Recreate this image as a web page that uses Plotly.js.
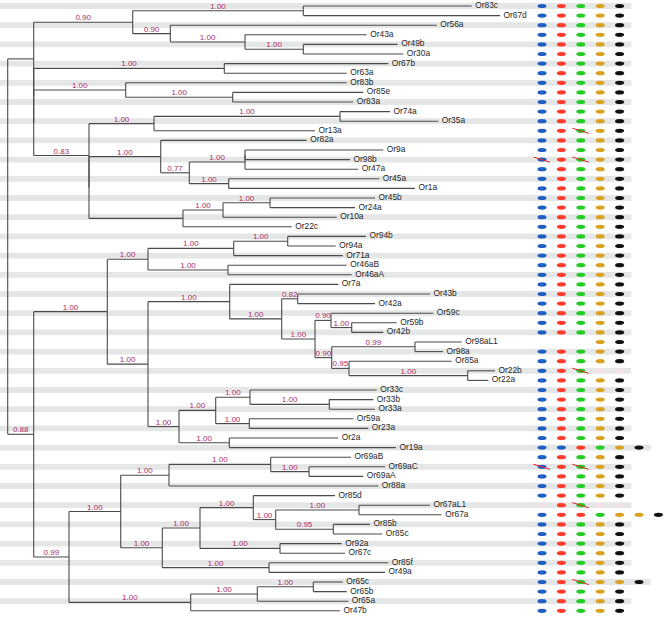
<!DOCTYPE html>
<html>
<head>
<meta charset="utf-8">
<script src="https://cdn.plot.ly/plotly-3.0.1.min.js"></script>
<style>html,body{margin:0;padding:0;background:#fff;}#chart{width:670px;height:619px;}</style>
</head>
<body>
<div id="chart"></div>
<script>
// ---- Tree data: "(children)support@depth" for clades, "name@depth" for leaves ----
const cladeA1 = "((Or83c@471.7,Or67d@500)1.00@303.3,(Or56a@436.7,(Or43a@366.7,(Or49b@397.7,Or30a@403.3)1.00@303.3)1.00@245)0.90@170.3)0.90@132.7";
const cladeA2 = "(Or67b@388.3,Or63a@346.7)1.00@224.3";
const cladeA3 = "(Or83b@346.7,(Or85e@363.3,Or83a@353.3)1.00@232.7)1.00@125.7";
const cladeA4a = "((Or74a@390,Or35a@438.3)1.00@340,Or13a@315)1.00@154";
const cladeA4b = "(Or82a@306.7,(((Or9a@383.3,Or98b@350)@245,Or47a@358.3)1.00@245,(Or45a@379.3,Or1a@415)1.00@228.7)0.77@189.3)1.00@160.7";
const cladeA4c = "(((Or45b@375,Or24a@355)1.00@270,Or10a@336.7)1.00@223,Or22c@291.7)@183";
const cladeB1a = "(((Or94b@366,Or94a@335.7)1.00@287.7,Or71a@342.7)1.00@233.7,(Or46aB@346.7,Or46aA@351.7)1.00@228)1.00@148";
const cladeB1b1 = "(Or7a@338.3,((Or43b@430,Or42a@375)0.82@297.7,((Or59c@433.3,(Or59b@396.7,Or42b@383.3)1.00@351.7)0.90@331,((Or98aL1@461.7,Or98a@443)0.99@415,(Or85a@451.7,(Or22b@495,Or22a@488.3)1.00@467.7)0.95@349)0.90@331.7)1.00@315)1.00@281.7)1.00@229.7";
const cladeB1b2 = "(((Or33c@376.7,(Or33b@373.3,Or33a@375)1.00@329.3)1.00@250,(Or59a@353.3,Or23a@368.3)1.00@249.3)1.00@215.7,(Or2a@338.3,Or19a@396)1.00@229.3)1.00@179";
const cladeB2a1 = "((Or69aB@351,(Or69aC@385,Or69aA@363.3)1.00@309)1.00@270.7,Or88a@378.3)1.00@169";
const cladeB2a2 = "(((Or85d@335,((Or67aL1@430,Or67a@441.7)1.00@359,(Or85b@370,Or85c@382.3)0.95@333.3)1.00@275.7)1.00@253.3,(Or92a@341.7,Or67c@345)1.00@280)1.00@200,(Or85f@388.3,Or49a@385)1.00@269)1.00@162.3";
const cladeB2b = "(((Or65c@342.7,Or65b@346.7)1.00@313.3,Or65a@348.3)1.00@257.3,Or47b@340)1.00@190.7";

const treeNewick =
  "((" + cladeA1 + ",(" + cladeA2 + ",(" + cladeA3 + ",(" + cladeA4a + ",(" + cladeA4b + "," + cladeA4c + ")@89)0.83@89)@33.7)@33.7)@33.7," +
  "(((" + cladeB1a + ",(" + cladeB1b1 + "," + cladeB1b2 + ")1.00@148)1.00@107.3)," +
  "((" + cladeB2a1 + "," + cladeB2a2 + ")1.00@120.7," + cladeB2b + ")0.99@69)0.88@33.7)@7.7";

// ---- Domain presence per leaf (in leaf order). B blue, R red, G green, O orange, K black,
// P faint, "-" empty; "*" marks a crossed-out entry ----
const dotRows = [
  "B R G O K","B R G O K","B R G O K","B R G O K","B R G O K","B R G O K","B R G O K","B R G O K",
  "B R G O K","B R G O K","B R G O K","B R G O K","B R G O K","B R G* O K","B R G O K","B R G O K",
  "B* R G* O K","B R G O K","B R G O K","B R G O K","B R G O K","B R G O K","B R G O K","B R G O K",
  "B R G O K","B R G O K","B R G O K","B R G O K","B R G O K","B R G O K","B R G O K","B R G O K",
  "B R G O K","B R G O K","B R G O K","- - - O K","B R G O K","B R G O K","B R G* P P","B R G O K",
  "B R G O K","B R G O K","B R G O K","B R G O K","B R G O K","B R G O K","B B R G O K","B R G O K",
  "B* R G* O K","B R G O K","B R G O K","B R G O K","P R G* P P","B R R G O O K","B R G O K","B R G O K",
  "B R G O K","B R G O K","B R G O K","B R G O K","B R G* O O K","B R G O K","B R G O K","B R G O K"
];
const dotColors = {B:"#1f5fc4", R:"#ff3b2b", G:"#25cc25", O:"#d9a11f", K:"#111111", P:"#f5e1e8"};

// ---- parse ----
function parseTree(s) {
  let i = 0;
  function node() {
    const n = {children: [], x: 0, label: ""};
    if (s[i] === "(") {
      i++;
      n.children.push(node());
      while (s[i] === ",") { i++; n.children.push(node()); }
      i++;
    }
    let lab = "";
    while (i < s.length && !",)@".includes(s[i])) lab += s[i++];
    if (s[i] === "@") {
      i++; let num = "";
      while (i < s.length && !",)".includes(s[i])) num += s[i++];
      n.x = parseFloat(num);
    }
    n.label = lab;
    return n;
  }
  return node();
}
const root = parseTree(treeNewick);
const leaves = [];
function layout(n, parent) {
  if (!n.children.length) { n.y = leaves.length; leaves.push(n); }
  else {
    if (n.x === 0 && parent) n.x = parent.x;
    n.children.forEach(c => layout(c, n));
    n.y = (n.children[0].y + n.children[n.children.length - 1].y) / 2;
  }
}
layout(root, null);

const lx = [], ly = [], sx = [], sy = [], st = [], nx = [], ny = [], nt = [];
function walk(n, parent) {
  if (parent) {
    if (n.x !== parent.x) { lx.push(parent.x, n.x, null); ly.push(n.y, n.y, null); }
    if (n.children.length && n.label && n.x !== parent.x) {
      sx.push((parent.x + n.x) / 2); sy.push(n.y); st.push(n.label);
    }
  }
  if (n.children.length) {
    const ys = n.children.map(c => c.y);
    lx.push(n.x, n.x, null); ly.push(Math.min(...ys), Math.max(...ys), null);
    n.children.forEach(c => walk(c, n));
  } else { nx.push(n.x); ny.push(n.y); nt.push(n.label); }
}
walk(root, null);

// ---- shapes: stripes, ellipses, slashes ----
const colStep = 19.4, firstColPx = 542, W = 670, H = 619;
const x2min = 1 - firstColPx / colStep, x2max = x2min + W / colStep;
const rowStep = 9.6, firstRowPx = 6;
const ymin = -firstRowPx / rowStep, ymax = ymin + H / rowStep;
const shapes = [];
dotRows.forEach((row, r) => {
  const toks = row.split(" ");
  if (r % 2 === 0) {
    shapes.push({type: "rect", layer: "below", xref: "x2", yref: "y", x0: x2min, x1: toks.length + 0.6,
      y0: r - 0.3, y1: r + 0.3, fillcolor: "#e5e7e7", line: {width: 0}});
  }
  toks.forEach((t, c) => {
    if (t[0] === "-") return;
    const col = c + 1;
    shapes.push({type: "circle", xref: "x2", yref: "y", xsizemode: "pixel", ysizemode: "pixel",
      xanchor: col, yanchor: r, x0: -4.5, x1: 4.5, y0: -2.1, y1: 2.1,
      fillcolor: dotColors[t[0]], line: {width: 0}});
    if (t.includes("*")) {
      shapes.push({type: "line", xref: "x2", yref: "y", xsizemode: "pixel", ysizemode: "pixel",
        xanchor: col, yanchor: r, x0: -8.5, x1: 8, y0: 2.6, y1: -2.6,
        line: {color: "#e8202a", width: 1}});
    }
  });
});

const font = "Liberation Sans, Arial, Helvetica, sans-serif";
const traces = [
  {type: "scatter", mode: "lines", x: lx, y: ly, line: {color: "#4a4a4a", width: 1.1},
   hoverinfo: "skip", showlegend: false},
  {type: "scatter", mode: "text", x: sx, y: sy, text: st, textposition: "top center",
   textfont: {family: font, size: 8, color: "#ae2a66"}, hoverinfo: "skip", showlegend: false},
  {type: "scatter", mode: "markers+text", x: nx, y: ny, text: nt, textposition: "middle right",
   marker: {size: 4, color: "rgba(0,0,0,0)"},
   textfont: {family: font, size: 8.4, color: "#262626"}, hoverinfo: "skip", showlegend: false}
];
const layoutObj = {
  width: W, height: H, margin: {l: 0, r: 0, t: 0, b: 0},
  paper_bgcolor: "#fff", plot_bgcolor: "rgba(0,0,0,0)",
  xaxis: {range: [0, W], visible: false, fixedrange: true},
  xaxis2: {range: [x2min, x2max], overlaying: "x", visible: false, fixedrange: true},
  yaxis: {range: [ymax, ymin], visible: false, fixedrange: true},
  shapes: shapes, showlegend: false
};
Plotly.newPlot("chart", traces, layoutObj, {displayModeBar: false, staticPlot: true});
</script>
</body>
</html>
